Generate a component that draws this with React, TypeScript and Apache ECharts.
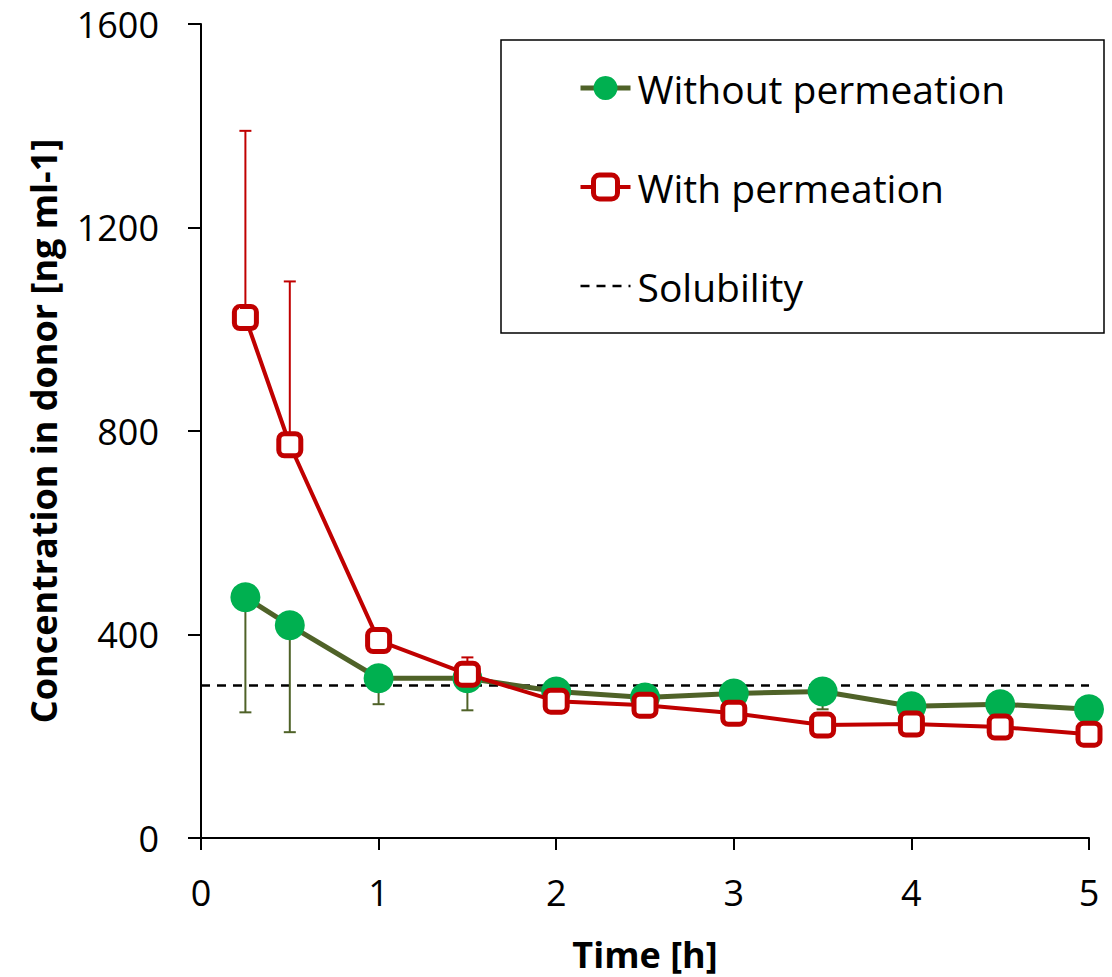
import React, { useEffect, useRef } from "react";
import * as echarts from "echarts";

const times = [0.25, 0.5, 1, 1.5, 2, 2.5, 3, 3.5, 4, 4.5, 5];
const withoutPermeation = [473, 418, 314, 314, 288, 276, 284, 288, 259, 263, 253];
const withoutPermeationErr = [226, 210, 51, 63, 20, 20, 20, 35, 20, 20, 20];
const withPermeation = [1023, 773, 388, 322, 269, 261, 245, 222, 224, 218, 204];
const withPermeationErr = [367, 321, 15, 33, 15, 15, 15, 15, 15, 15, 15];
const solubilityX = [0, 5];
const solubility = 300;
const yTicks = [0, 400, 800, 1200, 1600];
const xTicks = [0, 1, 2, 3, 4, 5];

const FONT = "'Open Sans', 'Noto Sans', sans-serif";
const GREEN_LINE = "#4F6228";
const GREEN_FILL = "#00B050";
const RED = "#C00000";

function errorBarSeries(name: string, color: string, means: number[], errs: number[], dir: number, z: number) {
  return {
    name: name + " error",
    type: "custom",
    z,
    silent: true,
    data: times.map((t, i) => [t, means[i], means[i] + dir * errs[i]]),
    renderItem: (params: any, api: any) => {
      const x = api.value(0);
      const p1 = api.coord([x, api.value(1)]);
      const p2 = api.coord([x, api.value(2)]);
      const cap = 6;
      return {
        type: "group",
        children: [
          {
            type: "line",
            shape: { x1: p1[0], y1: p1[1], x2: p2[0], y2: p2[1] },
            style: { stroke: color, lineWidth: 2 },
          },
          {
            type: "line",
            shape: { x1: p2[0] - cap, y1: p2[1], x2: p2[0] + cap, y2: p2[1] },
            style: { stroke: color, lineWidth: 2 },
          },
        ],
      };
    },
  };
}

export default function App() {
  const ref = useRef<HTMLDivElement>(null);
  useEffect(() => {
    if (!ref.current) return;
    const chart = echarts.init(ref.current, null, { renderer: "svg" });
    chart.setOption({
      animation: false,
      backgroundColor: "#ffffff",
      grid: { left: 201, right: 23, top: 24, bottom: 137, containLabel: false },
      graphic: [
        {
          type: "rect",
          shape: { x: 501, y: 40, width: 603, height: 293 },
          style: { fill: "#ffffff", stroke: "#000000", lineWidth: 1.5 },
          z: 10,
        },
      ],
      legend: {
        left: 578,
        top: 66,
        orient: "vertical",
        padding: 0,
        itemWidth: 50,
        itemHeight: 30,
        itemGap: 55,
        z: 20,
        selectedMode: false,
        data: [
          {
            name: "Without permeation",
            itemStyle: { color: GREEN_FILL, borderWidth: 0 },
            lineStyle: { color: GREEN_LINE, width: 5 },
          },
          {
            name: "With permeation",
            itemStyle: { color: "#ffffff", borderColor: RED, borderWidth: 5 },
            lineStyle: { color: RED, width: 4 },
          },
          {
            name: "Solubility",
            itemStyle: { opacity: 0 },
            lineStyle: { color: "#000", width: 2.5, type: [9, 7] },
          },
        ],
        textStyle: { fontFamily: FONT, fontSize: 39, color: "#000", lineHeight: 44, padding: [0, 0, 0, 2] },
      },
      xAxis: {
        type: "value",
        min: 0,
        max: 5,
        interval: 1,
        name: "Time [h]",
        nameLocation: "middle",
        nameGap: 98,
        nameTextStyle: { fontFamily: FONT, fontSize: 36, fontWeight: "bold", color: "#000" },
        axisLine: { lineStyle: { color: "#000", width: 2 } },
        axisTick: { show: true, inside: false, length: 12, lineStyle: { color: "#000", width: 2 } },
        axisLabel: {
          fontFamily: FONT,
          fontSize: 36,
          color: "#000",
          margin: 36,
          formatter: (v: number) => (xTicks.includes(v) ? String(v) : ""),
        },
        splitLine: { show: false },
      },
      yAxis: {
        type: "value",
        min: 0,
        max: 1600,
        interval: 400,
        name: "Concentration in donor [ng ml-1]",
        nameLocation: "middle",
        nameGap: 140,
        nameTextStyle: { fontFamily: FONT, fontSize: 36, fontWeight: "bold", color: "#000" },
        axisLine: { show: true, lineStyle: { color: "#000", width: 2 } },
        axisTick: { show: true, inside: false, length: 13, lineStyle: { color: "#000", width: 2 } },
        axisLabel: {
          fontFamily: FONT,
          fontSize: 36,
          color: "#000",
          margin: 42,
          formatter: (v: number) => (yTicks.includes(v) ? String(v) : ""),
        },
        splitLine: { show: false },
      },
      series: [
        {
          name: "Solubility",
          type: "line",
          z: 1,
          symbol: "none",
          data: solubilityX.map((x) => [x, solubility]),
          lineStyle: { color: "#000", width: 2.5, type: [9, 7] },
          itemStyle: { color: "#000" },
        },
        errorBarSeries("Without permeation", GREEN_LINE, withoutPermeation, withoutPermeationErr, -1, 2),
        {
          name: "Without permeation",
          type: "line",
          z: 3,
          data: times.map((t, i) => [t, withoutPermeation[i]]),
          symbol: "circle",
          symbolSize: 30,
          lineStyle: { color: GREEN_LINE, width: 5 },
          itemStyle: { color: GREEN_FILL, borderWidth: 0 },
        },
        errorBarSeries("With permeation", RED, withPermeation, withPermeationErr, 1, 4),
        {
          name: "With permeation",
          type: "line",
          z: 5,
          data: times.map((t, i) => [t, withPermeation[i]]),
          symbol: "roundRect",
          symbolSize: 22,
          lineStyle: { color: RED, width: 4 },
          itemStyle: { color: "#ffffff", borderColor: RED, borderWidth: 5 },
        },
      ],
    });
    return () => chart.dispose();
  }, []);
  return <div ref={ref} style={{ position: "absolute", left: 0, top: 0, width: 1112, height: 977 }} />;
}
